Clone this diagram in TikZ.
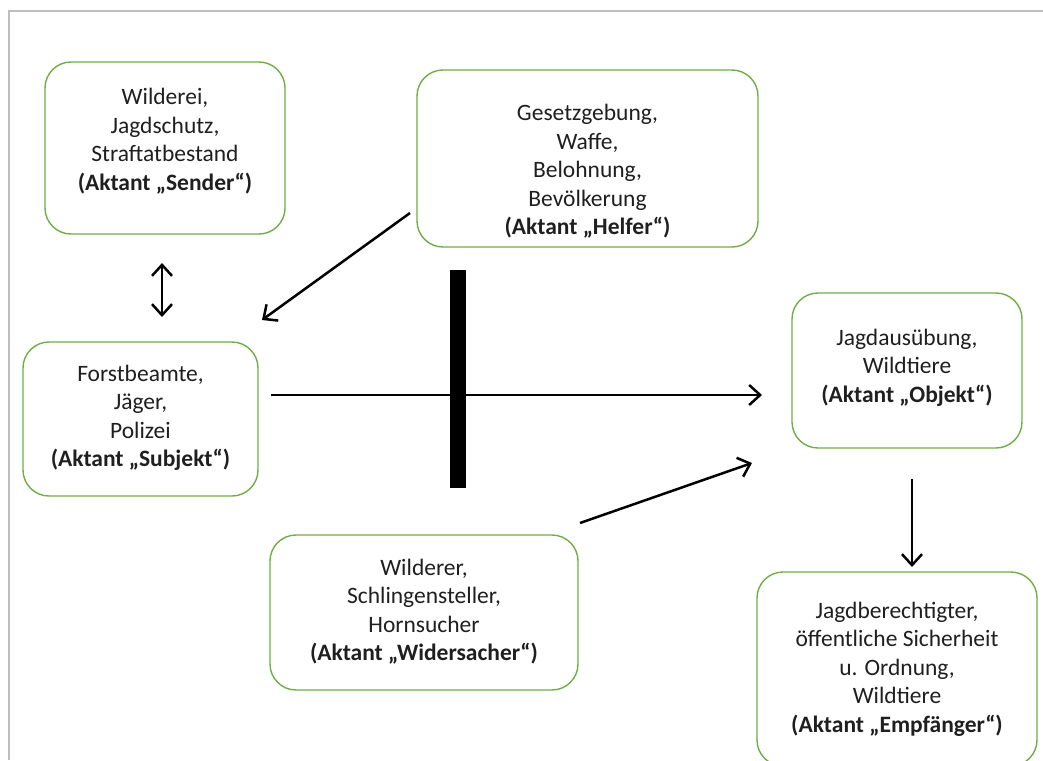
\documentclass[tikz,border=0pt]{standalone}
\usepackage{fontspec}
\setmainfont{Carlito}
\usetikzlibrary{arrows.meta}
\definecolor{boxgreen}{RGB}{112,173,71}
\definecolor{framegray}{RGB}{190,190,190}
\begin{document}
\begin{tikzpicture}[x=1pt,y=-1pt,
  aktant/.style={draw=boxgreen, line width=1.4pt, rounded corners=26pt, inner sep=0pt},
  txt/.style={align=center, inner sep=0pt, text=black!88, font=\fontsize{23.5}{28.5}\selectfont},
  link/.style={line width=2.5pt, -{Straight Barb[length=11pt,width=20pt]}},
  biglink/.style={line width=2.5pt, {Straight Barb[length=11pt,width=20pt]}-{Straight Barb[length=11pt,width=20pt]}}]
  \useasboundingbox (0,0) rectangle (1043,760);
  % page frame
  \draw[framegray, line width=1.6pt] (9,760) -- (9,11) -- (1043,11);

  % actant boxes
  \node[aktant, minimum width=240pt, minimum height=172pt] (sender) at (165,148) {};
  \node[aktant, minimum width=341pt, minimum height=177pt] (helfer) at (587.5,158.5) {};
  \node[aktant, minimum width=235pt, minimum height=154pt] (subjekt) at (140.5,419) {};
  \node[aktant, minimum width=230pt, minimum height=155pt] (objekt) at (907,370.5) {};
  \node[aktant, minimum width=308pt, minimum height=155pt] (widersacher) at (424,612.5) {};
  \node[aktant, minimum width=280pt, minimum height=194pt] (empfaenger) at (897,669) {};

  % box texts
  \node[txt] (senderT) at ([yshift=7pt]sender.center)
    {Wilderei,\\Jagdschutz,\\Straftatbestand\\\textbf{(Aktant „Sender“)}};
  \node[txt] (helferT) at ([yshift=-13pt]helfer.center)
    {Gesetzgebung,\\Waffe,\\Belohnung,\\Bevölkerung\\\textbf{(Aktant „Helfer“)}};
  \node[txt] (subjektT) at ([yshift=1pt]subjekt.center)
    {Forstbeamte,\\Jäger,\\Polizei\\\textbf{(Aktant „Subjekt“)}};
  \node[txt] (objektT) at ([yshift=3pt]objekt.center)
    {Jagdausübung,\\Wildtiere\\\textbf{(Aktant „Objekt“)}};
  \node[txt] (widersacherT) at ([yshift=1pt]widersacher.center)
    {Wilderer,\\Schlingensteller,\\Hornsucher\\\textbf{(Aktant „Widersacher“)}};
  \node[txt] (empfaengerT) at ([yshift=0pt]empfaenger.center)
    {Jagdberechtigter,\\öffentliche Sicherheit\\u. Ordnung,\\Wildtiere\\\textbf{(Aktant „Empfänger“)}};

  % blocking bar across the subject-object axis
  \node[fill=black, inner sep=0pt, minimum width=16pt, minimum height=218pt] (bar) at (458,379) {};

  % connector end points
  \coordinate (sdA) at (162,263);
  \coordinate (sdB) at (162,317);
  \coordinate (hsA) at (410,213);
  \coordinate (hsB) at (262,320);
  \coordinate (soA) at (271,395);
  \coordinate (soB) at (762,395);
  \coordinate (woA) at (580,523);
  \coordinate (woB) at (752,463);
  \coordinate (oeA) at (912,479);
  \coordinate (oeB) at (912,567);

  \draw[biglink] (sdA) -- (sdB);
  \draw[link] (hsA) -- (hsB);
  \draw[link] (soA) -- (soB);
  \draw[link] (woA) -- (woB);
  \draw[link] (oeA) -- (oeB);
\end{tikzpicture}
\end{document}
